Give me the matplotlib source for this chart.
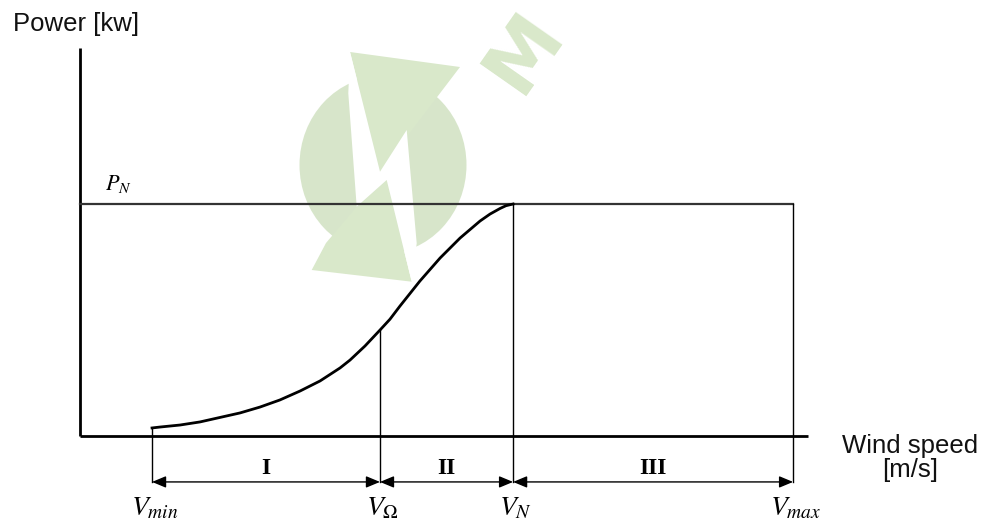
import matplotlib
matplotlib.use("Agg")
import matplotlib.pyplot as plt
from matplotlib.patches import Ellipse, Polygon
from matplotlib.transforms import Affine2D

plt.rcParams['mathtext.fontset'] = 'stix'

# characteristic speeds [m/s]
v_min = 3.03
v_omega = 12.62
v_n = 18.22
v_max = 30.0
p_n = 1500  # rated power [kW]

# power curve between v_min and v_n
curve_speed = [3.03, 3.37, 4.21, 5.05, 5.89, 6.73, 7.57, 8.41, 9.26, 10.10,
               10.94, 11.36, 11.99, 12.62, 13.04, 13.46, 14.30, 15.15, 15.99,
               16.83, 17.25, 17.67, 17.92, 18.22]
curve_power = [52, 58, 71, 91, 120, 149, 187, 233, 291, 356,
               440, 491, 582, 685, 755, 840, 1002, 1151, 1280,
               1390, 1435, 1471, 1489, 1500]

region_labels = ['I', 'II', 'III']
region_bounds = [(v_min, v_omega), (v_omega, v_n), (v_n, v_max)]
speed_labels = [(v_min, r'$V_{min}$'), (v_omega, r'$V_{\Omega}$'),
                (v_n, r'$V_N$'), (v_max, r'$V_{max}$')]

W, H = 993, 524
fig = plt.figure(figsize=(W / 100, H / 100), dpi=100)
ax = fig.add_axes([0, 0, 1, 1])
ax.set_xlim(-3.366, 38.41)
ax.set_ylim(-569, 2819)
ax.axis('off')

# pixel transform (origin top-left) for decoration / free text
px = Affine2D().scale(1 / W, -1 / H).translate(0, 1) + fig.transFigure

# faint watermark logo
wm = '#d3e3c5'
ax.add_patch(Ellipse((383, 165), 167, 178, transform=px, color=wm, alpha=0.9, zorder=0, lw=0))
ax.add_patch(Polygon([(350, 52), (460, 67), (380, 172)], transform=px, color='#d9e8ca',
                     zorder=0.2, lw=0))
ax.add_patch(Polygon([(356.7, 206.7), (386.7, 180), (411.7, 281.7), (311.7, 270), (326, 243)],
                     transform=px, color='#d9e8ca', zorder=0.2, lw=0))
ax.add_patch(Polygon([(348.3, 93.3), (356.7, 206.7), (386.7, 180), (411.7, 281.7),
                      (416.7, 243.3), (406.7, 130), (380, 171.7), (350, 51.7)],
                     transform=px, color='white', zorder=0.5, lw=0))
ax.text(524, 52, 'M', transform=px, fontsize=56, fontweight='bold', color='#d9e8ca',
        rotation=55, ha='center', va='center', family='DejaVu Sans', zorder=0)

# axes
ax.plot([0, 0], [0, 2510], color='k', lw=2.0, solid_capstyle='butt')
ax.plot([0, 30.63], [0, 0], color='k', lw=2.0, solid_capstyle='butt')

# rated power line
ax.plot([0, v_max], [p_n, p_n], color='#333333', lw=1.6)
ax.text(1.05, p_n + 60, r'$P_N$', fontsize=16, ha='left', va='bottom')

# power curve
ax.plot(curve_speed, curve_power, color='k', lw=2.0, solid_joinstyle='round')

# vertical markers
y_arr = -297
ax.plot([v_min, v_min], [curve_power[0], y_arr], color='k', lw=1.0)
ax.plot([v_omega, v_omega], [685, y_arr], color='k', lw=1.0)
ax.plot([v_n, v_n], [p_n, y_arr], color='k', lw=1.0)
ax.plot([v_max, v_max], [p_n, y_arr], color='k', lw=1.0)

for (a, b), lab in zip(region_bounds, region_labels):
    ax.annotate('', xy=(b, y_arr), xytext=(a, y_arr),
                arrowprops=dict(arrowstyle='<|-|>,head_length=0.6,head_width=0.25',
                                color='k', lw=1.0, mutation_scale=14,
                                shrinkA=0, shrinkB=0))
    ax.text((a + b) / 2, -213, lab, fontsize=17, fontweight='bold',
            family='Liberation Serif', ha='center', va='center')

for v, lab in speed_labels:
    ax.text(v + 0.1, -460, lab, fontsize=20, ha='center', va='center')

ax.text(13, 24, 'Power [kw]', transform=px, fontsize=18.5, family='Liberation Sans',
        ha='left', va='center', color='#111111')
ax.text(910, 458, 'Wind speed\n[m/s]', transform=px, fontsize=18.5,
        family='Liberation Sans', ha='center', va='center', linespacing=1.05,
        color='#111111')

fig.savefig('out.png', dpi=100, facecolor='white')
